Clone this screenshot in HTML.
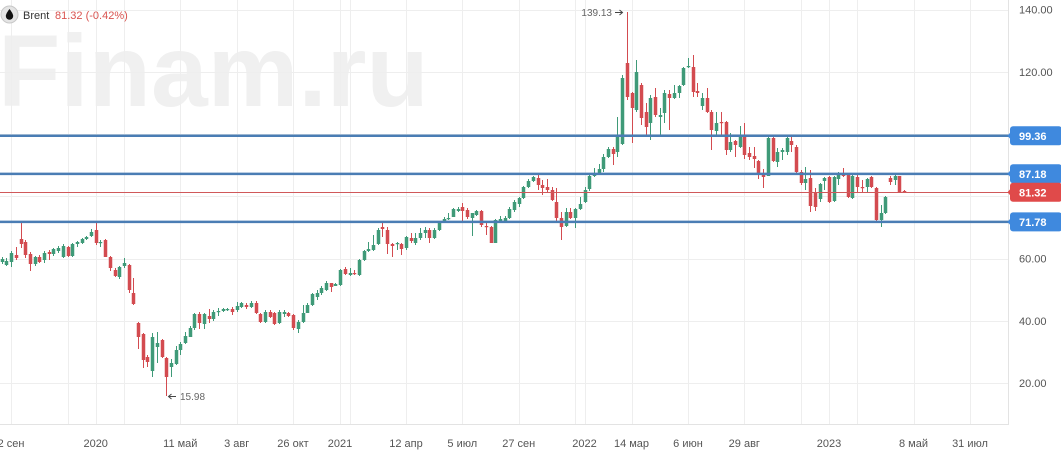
<!DOCTYPE html>
<html>
<head>
<meta charset="utf-8">
<style>
html,body{margin:0;padding:0;background:#fff;}
body{width:1061px;height:457px;overflow:hidden;}
svg{display:block;}
text{font-family:"Liberation Sans",Arial,sans-serif;}
</style>
</head>
<body>
<svg id="s" width="1061" height="457" viewBox="0 0 1061 457" xmlns="http://www.w3.org/2000/svg">
  <rect x="0" y="0" width="1061" height="457" fill="#fff"/>
  <!-- watermark -->
  <text x="-2" y="106" font-size="102" font-weight="bold" fill="#f0f0f0">Finam.ru</text>
  <g id="grid" stroke="#eeeeee" stroke-width="1"></g>
  <!-- axes borders -->
  <line x1="1008.5" y1="0" x2="1008.5" y2="425" stroke="#e3e3e3" stroke-width="1"/>
  <line x1="0" y1="424.5" x2="1008" y2="424.5" stroke="#e3e3e3" stroke-width="1"/>
  <g id="candles"></g>
  <!-- horizontal levels -->
  <line x1="0" y1="135.8" x2="1009" y2="135.8" stroke="#4a7db4" stroke-width="2.5"/>
  <line x1="0" y1="173.9" x2="1009" y2="173.9" stroke="#4a7db4" stroke-width="2.5"/>
  <line x1="0" y1="221.9" x2="1009" y2="221.9" stroke="#4a7db4" stroke-width="2.5"/>
  <line x1="0" y1="192.5" x2="1009" y2="192.5" stroke="#d0585a" stroke-width="1"/>
  <!-- y axis labels -->
  <g font-size="11" fill="#555">
    <text x="1019" y="13.5">140.00</text>
    <text x="1019" y="75.8">120.00</text>
    <text x="1019" y="262.5">60.00</text>
    <text x="1019" y="324.8">40.00</text>
    <text x="1019" y="387">20.00</text>
  </g>
  <!-- price labels -->
  <g>
    <rect x="1010" y="126.3" width="52" height="19" rx="3" fill="#3f89de"/>
    <polygon points="1007.5,135.8 1011,131.8 1011,139.8" fill="#3f89de"/>
    <rect x="1010" y="164.3" width="52" height="19" rx="3" fill="#3f89de"/>
    <polygon points="1007.5,173.8 1011,169.8 1011,177.8" fill="#3f89de"/>
    <rect x="1010" y="182.8" width="52" height="19" rx="3" fill="#e04a4a"/>
    <polygon points="1007.5,192.3 1011,188.3 1011,196.3" fill="#e04a4a"/>
    <rect x="1010" y="212.4" width="52" height="19" rx="3" fill="#3f89de"/>
    <polygon points="1007.5,221.9 1011,217.9 1011,225.9" fill="#3f89de"/>
  </g>
  <g font-size="11" font-weight="bold" fill="#fff">
    <text x="1019" y="139.8">99.36</text>
    <text x="1019" y="177.8">87.18</text>
    <text x="1019" y="196.3">81.32</text>
    <text x="1019" y="225.9">71.78</text>
  </g>
  <!-- x axis labels -->
  <g id="xl" font-size="11" fill="#555" text-anchor="middle"></g>
  <!-- annotations -->
  <text x="612" y="16" font-size="10" fill="#666" text-anchor="end">139.13</text>
  <line x1="615" y1="12.5" x2="622" y2="12.5" stroke="#444" stroke-width="1"/>
  <polyline points="619.5,10 622.5,12.5 619.5,15" fill="none" stroke="#444" stroke-width="1"/>
  <line x1="169" y1="396.5" x2="176" y2="396.5" stroke="#444" stroke-width="1"/>
  <polyline points="171.5,394 168.5,396.5 171.5,399" fill="none" stroke="#444" stroke-width="1"/>
  <text x="180" y="400" font-size="10" fill="#666">15.98</text>
  <!-- legend -->
  <circle cx="9.5" cy="14.5" r="8.5" fill="#e4e4e4" stroke="#c8c8c8" stroke-width="1"/>
  <path d="M9.5,9 C9.5,9 5.8,13.5 5.8,16 A3.7,3.7 0 0 0 13.2,16 C13.2,13.5 9.5,9 9.5,9 Z" fill="#111"/>
  <text x="23" y="19" font-size="11" fill="#333">Brent</text>
  <text x="55" y="19" font-size="11" fill="#d9534f">81.32 (-0.42%)</text>
</svg>
<script>
(function(){
var NS="http://www.w3.org/2000/svg";
var D=[
[1,259,262,257,264],[1,261,265,258,266],[1,253,262,251,267],[0,255,258,247,260],[0,239,244,222,248],
[0,242,255,240,258],[0,254,264,252,271],[1,257,264,256,266],[0,257,262,255,263],[1,253,260,251,263],
[0,252,254,250,260],[1,249,254,248,256],[1,248,251,246,253],[1,246,257,244,258],[0,247,256,246,257],
[1,244,256,243,257],[1,242,244,241,247],[1,239,243,238,244],[1,237,239,236,240],[1,232,236,229,237],
[0,230,243,222,245],[1,242,243,240,247],[0,240,257,239,257],[0,257,268,256,271],[0,270,276,268,277],
[1,267,277,266,279],[1,263,266,258,268],[0,265,290,264,293],[0,293,304,278,305],[0,323,337,322,349],
[0,334,360,333,368],[0,357,362,355,367],[1,337,371,333,377],[1,343,347,332,363],[0,340,357,339,358],
[0,358,377,357,396],[1,363,367,359,377],[1,350,364,346,365],[1,344,350,342,355],[1,336,343,332,344],
[1,328,337,326,337],[1,314,328,313,330],[0,314,323,312,329],[1,314,324,313,329],[0,316,319,309,323],
[1,312,319,310,321],[1,311,312,308,316],[1,309,311,308,312],[1,309,310,308,311],[0,309,312,307,315],
[1,306,310,302,312],[1,303,307,302,308],[0,305,307,303,309],[1,303,307,301,308],[0,303,313,301,314],
[0,314,322,313,323],[1,312,322,310,323],[0,312,317,310,318],[0,313,324,312,325],[1,312,323,310,324],
[1,312,314,310,317],[0,313,316,312,317],[0,315,328,314,330],[1,322,329,320,333],[1,313,322,305,323],
[1,305,313,303,313],[1,294,305,293,306],[1,293,297,290,300],[1,288,293,286,295],[1,283,290,281,291],
[0,283,287,283,292],[1,284,286,283,286],[1,270,285,269,286],[0,269,274,267,275],[1,273,275,268,276],
[0,273,274,270,275],[1,260,275,259,276],[1,251,260,250,261],[1,249,251,242,252],[1,245,250,235,251],
[1,230,244,228,245],[0,227,229,223,237],[0,230,244,227,254],[0,244,246,243,257],[1,243,244,242,250],
[0,244,249,243,255],[1,237,248,236,250],[0,238,241,233,243],[1,238,243,233,245],[1,233,238,228,240],
[1,230,233,227,238],[0,230,238,228,243],[1,230,238,228,239],[1,223,230,222,231],[1,219,222,217,223],
[1,218,219,213,220],[1,209,217,208,217],[1,209,211,207,212],[0,207,211,203,222],[0,210,217,208,219],
[1,213,218,213,236],[1,211,215,210,216],[0,211,225,210,227],[0,226,227,222,235],[0,227,243,226,243],
[1,220,243,219,243],[1,219,222,216,223],[1,218,221,216,223],[1,209,218,207,219],[1,202,210,200,212],
[1,198,204,197,207],[1,187,198,186,199],[1,181,187,179,188],[1,177,181,176,182],[0,178,185,174,190],
[0,185,188,180,195],[0,187,190,179,192],[0,190,200,187,201],[0,202,218,188,223],[0,218,227,212,240],
[1,212,226,208,227],[0,212,218,208,219],[1,209,218,208,228],[1,204,209,197,210],[1,190,202,187,203],
[1,176,189,175,191],[1,173,176,168,177],[1,169,173,164,174],[1,157,169,154,172],[1,149,157,147,158],
[0,149,154,147,165],[1,137,152,117,157],[1,78,144,75,145],[0,63,97,12,100],[0,93,108,92,143],
[1,72,110,60,112],[0,85,118,83,125],[0,112,127,103,137],[1,98,123,95,140],[0,97,115,88,117],
[1,115,117,108,136],[1,93,113,90,123],[0,94,98,90,130],[1,93,98,85,99],[1,86,93,85,98],
[1,68,85,67,86],[1,66,67,58,68],[0,67,92,55,97],[0,91,93,83,97],[1,98,106,93,110],
[0,98,112,88,113],[0,112,130,110,150],[1,123,131,112,137],[0,122,123,112,137],[0,122,150,121,155],
[1,142,150,133,152],[0,141,145,140,157],[1,136,147,126,148],[0,136,155,123,159],[0,153,157,147,160],
[0,156,159,147,168],[0,161,175,160,179],[0,174,177,169,188],[1,138,176,137,176],[0,138,161,137,162],
[1,152,162,148,167],[1,150,152,148,160],[1,138,152,137,155],[0,141,145,136,152],[0,147,172,145,173],
[0,172,183,170,185],[1,179,183,167,190],[0,178,206,170,212],[0,192,207,188,211],[1,184,199,183,202],
[1,178,181,177,190],[0,177,202,176,203],[1,177,201,176,202],[1,173,179,172,185],[0,173,176,168,177],
[0,175,197,174,198],[1,176,198,175,199],[0,177,187,175,193],[0,187,188,180,193],[1,179,187,178,193],
[0,177,187,176,188],[0,188,220,187,222],[1,213,220,205,227],[1,197,213,196,214],[0,178,182,176,185],
[1,176,180,173,185],[0,176,192,176,193],[0,191,192,190,193]
];
var g=document.getElementById("candles");
var G="#3f9a78",R="#d34b50";
for(var i=0;i<D.length;i++){
  var d=D[i];var x=Math.round(1.7+i*4.7)+0.5;var c=d[0]?G:R;
  var l=document.createElementNS(NS,"line");
  l.setAttribute("x1",x);l.setAttribute("x2",x);l.setAttribute("y1",d[3]);l.setAttribute("y2",d[4]);
  l.setAttribute("stroke",c);l.setAttribute("stroke-width","1");g.appendChild(l);
  var r=document.createElementNS(NS,"rect");
  var h=Math.max(1.2,d[2]-d[1]);
  r.setAttribute("x",x-1.75);r.setAttribute("y",d[1]);r.setAttribute("width","3.5");r.setAttribute("height",h);
  r.setAttribute("fill",c);g.appendChild(r);
}
var grid=document.getElementById("grid");
var hy=[9.5,71.75,134,196.25,258.5,320.75,383];
hy.forEach(function(y){var l=document.createElementNS(NS,"line");l.setAttribute("x1",0);l.setAttribute("x2",1008);l.setAttribute("y1",Math.round(y)+0.5);l.setAttribute("y2",Math.round(y)+0.5);grid.appendChild(l);});
var vx=[11,67.5,95.7,124,180.3,236.7,293,340,349.5,406,462.3,518.7,575,584.5,631.5,688,744.3,800.7,829,857,913.5,970];
vx.forEach(function(x){var l=document.createElementNS(NS,"line");var xx=Math.round(x)+0.5;l.setAttribute("x1",xx);l.setAttribute("x2",xx);l.setAttribute("y1",0);l.setAttribute("y2",424);grid.appendChild(l);});
var xl=document.getElementById("xl");
var L=[[11,"2 сен"],[95.7,"2020"],[180.3,"11 май"],[236.7,"3 авг"],[293,"26 окт"],[340,"2021"],[406,"12 апр"],[462.3,"5 июл"],[518.7,"27 сен"],[584.5,"2022"],[631.5,"14 мар"],[688,"6 июн"],[744.3,"29 авг"],[829,"2023"],[913.5,"8 май"],[970,"31 июл"]];
L.forEach(function(a){var t=document.createElementNS(NS,"text");t.setAttribute("x",a[0]);t.setAttribute("y",447);t.textContent=a[1];xl.appendChild(t);});
})();
</script>
</body>
</html>
